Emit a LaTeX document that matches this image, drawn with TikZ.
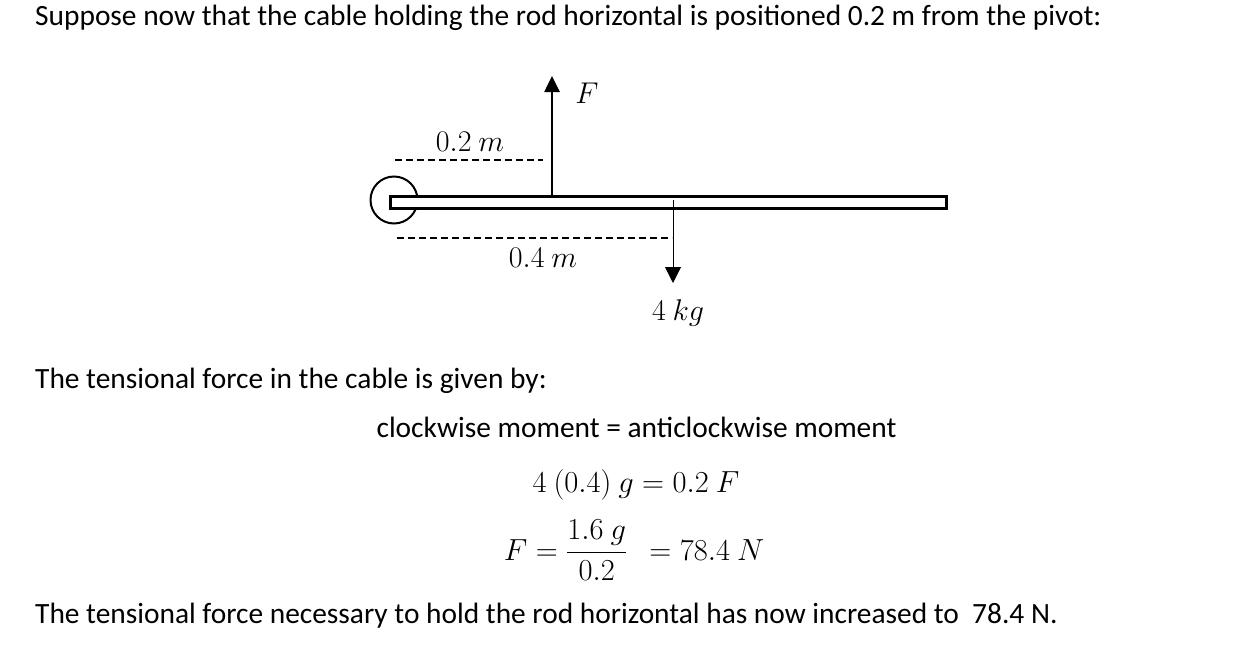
\RequirePackage{fix-cm}
\documentclass[tikz,border=0pt]{standalone}
\usepackage{amsmath}
\usepackage{fontspec}
\setmainfont{Carlito}
\usetikzlibrary{arrows.meta}

\tikzset{
  txt/.style={anchor=base west, inner sep=0pt, font=\fontsize{29.4}{34}\selectfont},
  eqn/.style={anchor=base, inner sep=0pt, font=\fontsize{30.5}{36}\selectfont},
  lbl/.style={inner sep=0pt, font=\fontsize{30}{36}\selectfont},
  dimline/.style={line width=1.5pt, dash pattern=on 7pt off 4pt},
  force/.style={line width=2.6pt, -{Triangle[length=16pt,width=15pt]}},
  weight/.style={line width=0.9pt, -{Triangle[length=16pt,width=16pt]}}
}

\begin{document}
\begin{tikzpicture}[x=1pt,y=-1pt]
\useasboundingbox (0,0) rectangle (1252,653);
\node[txt] (intro) at (35,25) {Suppose now that the cable holding the rod horizontal is positioned 0.2 m from the pivot:};
% pivot and rod
\draw[line width=2pt] (394,200) circle (23.5pt);
\node[draw, line width=3pt, fill=white, inner sep=0pt, minimum width=556pt, minimum height=12pt, anchor=west] (rod) at (389,202.5) {};
\coordinate (Fbase) at (552,196.5);
\coordinate (Ftip) at (552,76);
\coordinate (Wbase) at (673,200);
\coordinate (Wtip) at (673,283);
\draw[force] (Fbase) -- (Ftip);
\draw[weight] (Wbase) -- (Wtip);
\coordinate (d1a) at (395,160);
\coordinate (d1b) at (543,160);
\coordinate (d2a) at (397,238);
\coordinate (d2b) at (672,238);
\draw[dimline] (d1a) -- (d1b);
\draw[dimline] (d2a) -- (d2b);
\node[lbl] (labF) at (587,93) {$F$};
\node[lbl] (lab02) at (470,142) {$0.2\ m$};
\node[lbl] (lab04) at (543,258) {$0.4\ m$};
\node[lbl] (labkg) at (678,313) {$4\ kg$};
% working
\node[txt] (given) at (35,388) {The tensional force in the cable is given by:};
\node[eqn, font=\fontsize{29.4}{34}\selectfont] (moment) at (636.5,437) {clockwise moment = anticlockwise moment};
\node[eqn] (eq1) at (636,492) {$4\ (0.4)\ g = 0.2\ F$};
\node[eqn] (eq2) at (634,560) {$F = \dfrac{1.6\ g}{0.2}\ \ = 78.4\ N$};
\node[txt] (result) at (35,623) {The tensional force necessary to hold the rod horizontal has now increased to \ 78.4 N.};
\end{tikzpicture}
\end{document}
